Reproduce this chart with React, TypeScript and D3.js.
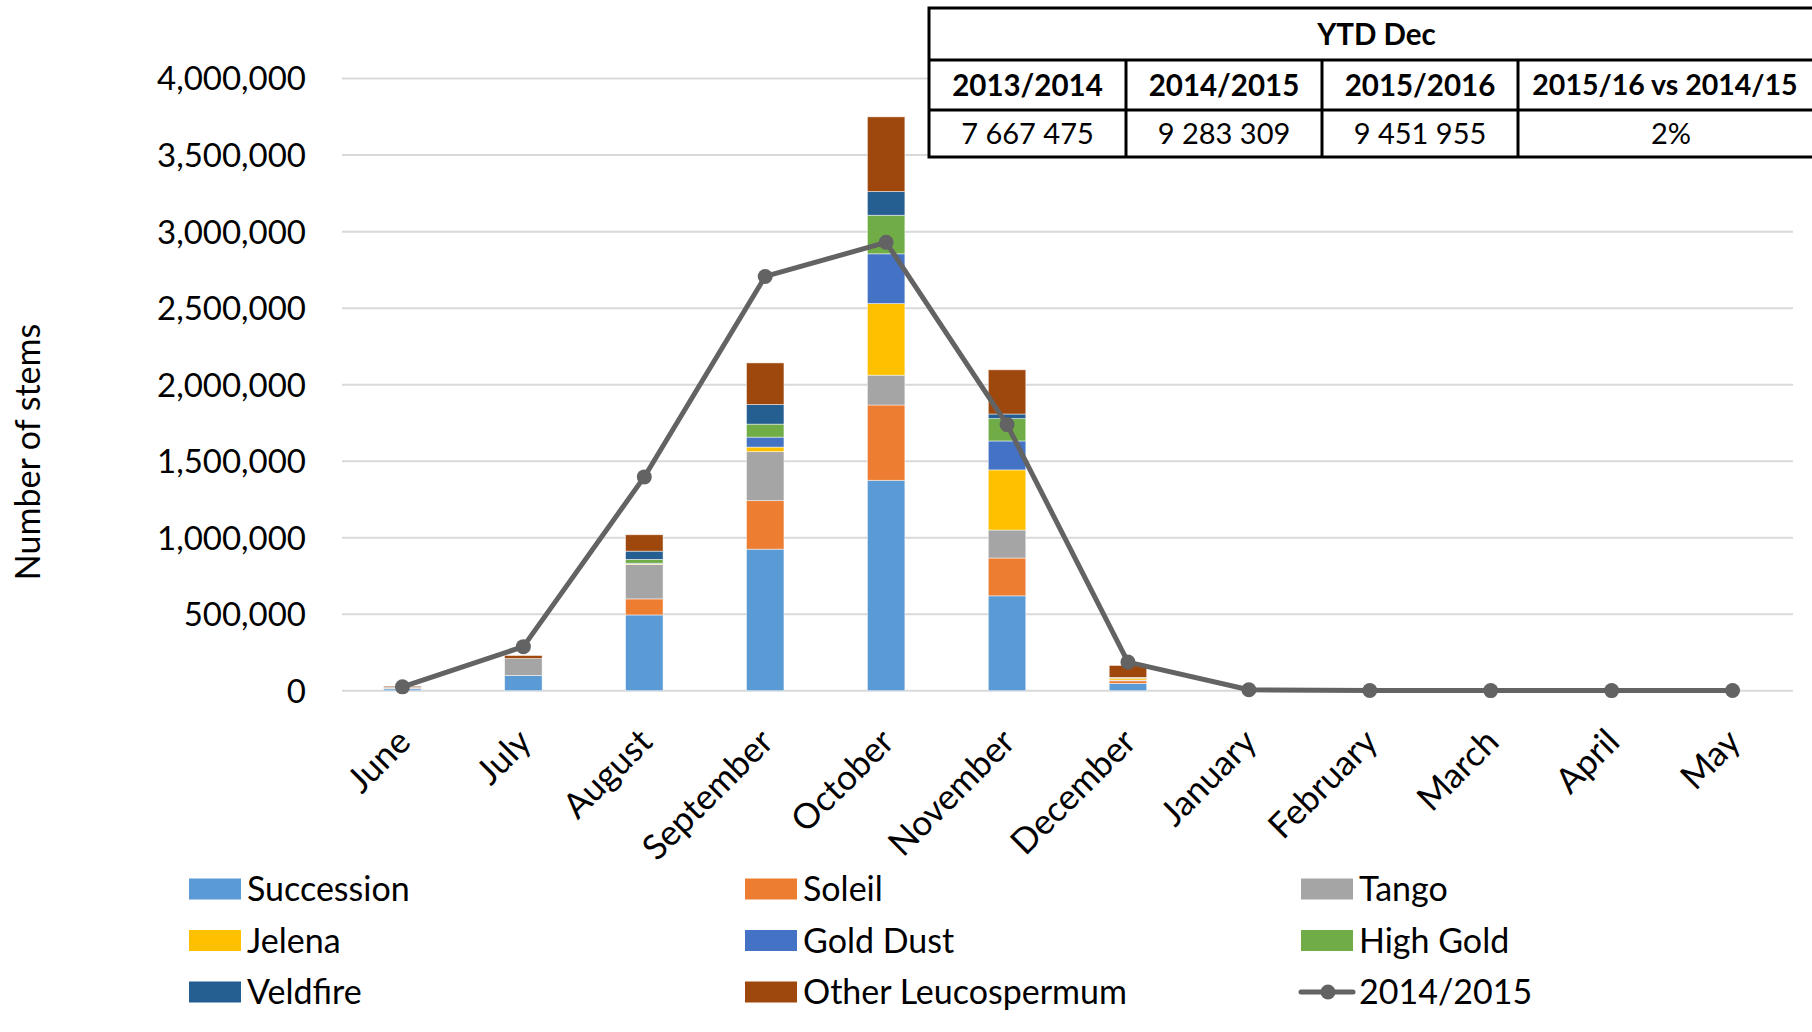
import React from 'react';
import * as d3 from 'd3';

const months = ['June', 'July', 'August', 'September', 'October', 'November', 'December', 'January', 'February', 'March', 'April', 'May'];

const varieties = ['Succession', 'Soleil', 'Tango', 'Jelena', 'Gold Dust', 'High Gold', 'Veldfire', 'Other Leucospermum'];
const colors = ['#5B9BD5', '#ED7D31', '#A5A5A5', '#FFC000', '#4472C4', '#70AD47', '#255E91', '#9E480E'];

// 2015/2016 stems per variety
const succession = [12000, 100000, 495000, 925000, 1375000, 620000, 48000, 0, 0, 0, 0, 0];
const soleil = [4000, 0, 105000, 317000, 492000, 247000, 17000, 0, 0, 0, 0, 0];
const tango = [8000, 110000, 225000, 320000, 195000, 183000, 5000, 0, 0, 0, 0, 0];
const jelena = [0, 0, 3000, 30000, 468000, 393000, 12000, 0, 0, 0, 0, 0];
const goldDust = [0, 0, 5000, 65000, 325000, 189000, 2000, 0, 0, 0, 0, 0];
const highGold = [0, 0, 25000, 85000, 252000, 146000, 2000, 0, 0, 0, 0, 0];
const veldfire = [0, 0, 54000, 128000, 155000, 30000, 1000, 0, 0, 0, 0, 0];
const other = [6000, 20000, 107000, 272000, 488000, 289000, 78000, 0, 0, 0, 0, 0];

// 2014/2015 line
const prevSeason = [25000, 288000, 1397000, 2707000, 2930000, 1739000, 187000, 6000, 1500, 800, 800, 1500];

const yTicks = [0, 500000, 1000000, 1500000, 2000000, 2500000, 3000000, 3500000, 4000000];

const tableTitle = 'YTD Dec';
const tableHeaders = ['2013/2014', '2014/2015', '2015/2016', '2015/16 vs 2014/15'];
const tableValues = ['7 667 475', '9 283 309', '9 451 955', '2%'];

const FONT = 'Lato, "Open Sans", sans-serif';
const LINE = '#636363';

export default function App() {
  const width = 1812;
  const height = 1032;

  const seriesArrays = [succession, soleil, tango, jelena, goldDust, highGold, veldfire, other];
  const rows = months.map((m, i) => {
    const r: any = { month: m };
    varieties.forEach((v, k) => { r[v] = seriesArrays[k][i]; });
    return r;
  });
  const stacked = d3.stack<any>().keys(varieties)(rows);

  const x = d3.scaleBand<string>()
    .domain(months)
    .range([342, 1793])
    .paddingInner(0.69)
    .paddingOuter(0.345);
  const y = d3.scaleLinear().domain([0, 4000000]).range([690.7, 78.6]);
  const cx = (m: string) => (x(m) as number) + x.bandwidth() / 2;
  const fmt = d3.format(',');

  const line = d3.line<number>()
    .x((_, i) => cx(months[i]))
    .y(d => y(d));

  // table geometry
  const colX = [929, 1126, 1322, 1518, 1824];
  const rowY = [8, 60, 110, 157];

  // legend
  const legendX = [189, 745, 1301];
  const legendY = [889, 940.5, 992];
  const legendItems = [...varieties.map((v, i) => ({ name: v, color: colors[i], type: 'rect' })), { name: '2014/2015', color: LINE, type: 'line' }];

  return (
    <div style={{ position: 'absolute', left: 0, top: 0 }}>
      <svg width={width} height={height} style={{ display: 'block', background: '#fff' }}>
        {/* gridlines */}
        {yTicks.map(t => (
          <line key={t} x1={342} x2={1793} y1={y(t)} y2={y(t)} stroke="#d9d9d9" strokeWidth={2} />
        ))}
        {/* y tick labels */}
        {yTicks.map(t => (
          <text key={'l' + t} x={306} y={y(t)} dy="0.36em" textAnchor="end" fontFamily={FONT} fontSize={33} fill="#000">
            {fmt(t)}
          </text>
        ))}
        <text transform="translate(40,452) rotate(-90)" textAnchor="middle" fontFamily={FONT} fontSize={34} fill="#000">
          Number of stems
        </text>

        {/* stacked bars */}
        {stacked.map((s, k) => (
          <g key={s.key} fill={colors[k]}>
            {s.map((d, i) => d[1] - d[0] > 0 ? (
              <rect key={i} x={x(months[i])} width={x.bandwidth()} y={y(d[1])} height={y(d[0]) - y(d[1])}
                stroke="#ffffff" strokeOpacity={0.6} strokeWidth={0.8} />
            ) : null)}
          </g>
        ))}

        {/* 2014/2015 line */}
        <path d={line(prevSeason) || ''} fill="none" stroke={LINE} strokeWidth={5} strokeLinejoin="round" />
        {prevSeason.map((v, i) => (
          <circle key={i} cx={cx(months[i])} cy={y(v)} r={7.5} fill={LINE} />
        ))}

        {/* x labels */}
        {months.map(m => (
          <text key={m} transform={`translate(${cx(m) + 10},${744}) rotate(-45)`} textAnchor="end"
            fontFamily={FONT} fontSize={35} fill="#000">
            {m}
          </text>
        ))}

        {/* table */}
        <rect x={colX[0]} y={rowY[0]} width={colX[4] - colX[0]} height={rowY[3] - rowY[0]} fill="#fff" stroke="#000" strokeWidth={3} />
        <line x1={colX[0]} x2={colX[4]} y1={rowY[1]} y2={rowY[1]} stroke="#000" strokeWidth={3} />
        <line x1={colX[0]} x2={colX[4]} y1={rowY[2]} y2={rowY[2]} stroke="#000" strokeWidth={3} />
        {colX.slice(1, 4).map(cxl => (
          <line key={cxl} x1={cxl} x2={cxl} y1={rowY[1]} y2={rowY[3]} stroke="#000" strokeWidth={3} />
        ))}
        <text x={(colX[0] + colX[4]) / 2} y={(rowY[0] + rowY[1]) / 2} dy="0.36em" textAnchor="middle"
          fontFamily={FONT} fontWeight="bold" fontSize={29.5} fill="#000">{tableTitle}</text>
        {tableHeaders.map((h, i) => (
          <text key={h} x={(colX[i] + colX[i + 1]) / 2 - (i === 3 ? 6 : 0)} y={(rowY[1] + rowY[2]) / 2} dy="0.36em" textAnchor="middle"
            fontFamily={FONT} fontWeight="bold" fontSize={i === 3 ? 28.5 : 29.5} fill="#000">{h}</text>
        ))}
        {tableValues.map((v, i) => (
          <text key={v} x={(colX[i] + colX[i + 1]) / 2} y={(rowY[2] + rowY[3]) / 2} dy="0.36em" textAnchor="middle"
            fontFamily={FONT} fontSize={29} fill="#000">{v}</text>
        ))}

        {/* legend */}
        {legendItems.map((item, i) => {
          const lx = legendX[i % 3];
          const ly = legendY[Math.floor(i / 3)];
          return (
            <g key={item.name}>
              {item.type === 'rect' ? (
                <rect x={lx} y={ly - 10.5} width={52} height={21} fill={item.color} />
              ) : (
                <g>
                  <line x1={lx} x2={lx + 52} y1={ly} y2={ly} stroke={item.color} strokeWidth={5} strokeLinecap="round" />
                  <circle cx={lx + 27} cy={ly} r={7.5} fill={item.color} />
                </g>
              )}
              <text x={lx + 58} y={ly} dy="0.36em" fontFamily={FONT} fontSize={34} fill="#000">{item.name}</text>
            </g>
          );
        })}
      </svg>
    </div>
  );
}
